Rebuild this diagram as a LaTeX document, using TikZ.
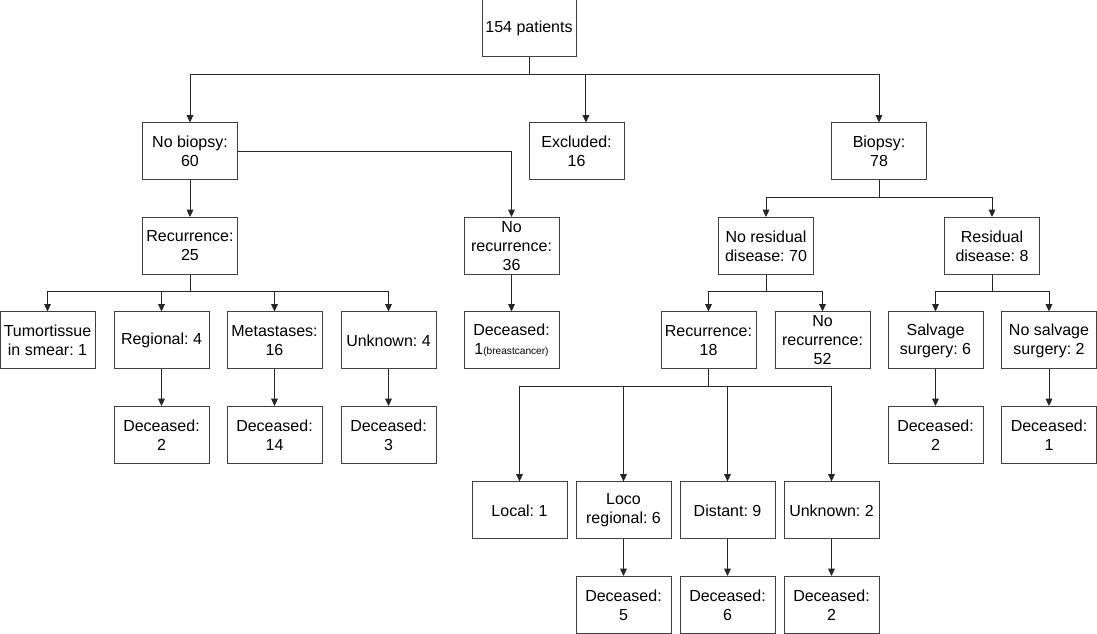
\documentclass[tikz,border=0pt]{standalone}
\usepackage{fontspec}
\setmainfont{Liberation Sans}
\usetikzlibrary{arrows.meta}
\frenchspacing
\begin{document}
\begin{tikzpicture}[x=0.75pt,y=-0.75pt,
  box/.style={draw=black!75,line width=0.75pt,minimum width=71.25pt,minimum height=42.75pt,
    inner sep=0pt,align=center,font=\fontsize{12}{14.25}\selectfont\frenchspacing},
  conn/.style={draw=black!85,line width=0.75pt},
  arr/.style={conn,-{Triangle[length=5.5pt,width=5pt]}}]
\useasboundingbox (0,0) rectangle (1097,634);
% level 1
\node[box,minimum width=70.5pt] (p154) at (529,28.5) {154 patients};
% level 2
\node[box] (nobiopsy) at (190,151.5) {No biopsy:\\60};
\node[box] (excluded) at (576.5,151.5) {Excluded:\\16};
\node[box] (biopsy) at (879,151.5) {Biopsy:\\78};
% level 3
\node[box] (rec25) at (190,246) {Recurrence:\\25};
\node[box] (norec36) at (511.5,246) {No\\recurrence:\\36};
\node[box] (nores) at (766,246) {No residual\\disease: 70};
\node[box] (res) at (992,246) {Residual\\disease: 8};
% level 4
\node[box] (tumor) at (47.5,340.5) {Tumortissue\\in smear: 1};
\node[box] (regional) at (161.5,340.5) {Regional: 4};
\node[box] (metast) at (274.5,340.5) {Metastases:\\16};
\node[box] (unk4) at (388.5,340.5) {Unknown: 4};
\node[box] (dec1) at (511.5,340.5) {Deceased:\\1{\fontsize{7.6}{9}\selectfont(breastcancer)}};
\node[box] (rec18) at (708.5,340.5) {Recurrence:\\18};
\node[box] (norec52) at (822.5,340.5) {No\\recurrence:\\52};
\node[box] (salv) at (935.5,340.5) {Salvage\\surgery: 6};
\node[box] (nosalv) at (1049,340.5) {No salvage\\surgery: 2};
% level 5
\node[box] (dec2) at (161.5,435) {Deceased:\\2};
\node[box] (dec14) at (274.5,435) {Deceased:\\14};
\node[box] (dec3) at (388.5,435) {Deceased:\\3};
\node[box] (decs2) at (935.5,435) {Deceased:\\2};
\node[box] (decs1) at (1049,435) {Deceased:\\1};
% level 6
\node[box] (local) at (519.5,510.5) {Local: 1};
\node[box] (loco) at (623.5,510.5) {Loco\\regional: 6};
\node[box] (distant) at (727.5,510.5) {Distant: 9};
\node[box] (unk2) at (831.5,510.5) {Unknown: 2};
% level 7
\node[box] (dec5) at (623.5,605) {Deceased:\\5};
\node[box] (dec6) at (727.5,605) {Deceased:\\6};
\node[box] (dec2b) at (831.5,605) {Deceased:\\2};
% junctions
\coordinate (j1) at (529,75);
\coordinate (j2) at (190,292);
\coordinate (j3) at (879,198);
\coordinate (j4) at (766,292);
\coordinate (j5) at (992,292);
\coordinate (j6) at (708.5,387);
% connectors
\draw[conn] (p154) -- (j1);
\draw[arr] (j1) -| (nobiopsy);
\draw[arr] (j1) -| ([xshift=7.1pt]excluded.north);
\draw[arr] (j1) -| (biopsy);
\draw[arr] (nobiopsy) -- (rec25);
\draw[arr] (nobiopsy.east) -| (norec36);
\draw[conn] (rec25) -- (j2);
\draw[arr] (j2) -| (tumor);
\draw[arr] (j2) -| (regional);
\draw[arr] (j2) -| (metast);
\draw[arr] (j2) -| (unk4);
\draw[arr] (norec36) -- (dec1);
\draw[arr] (regional) -- (dec2);
\draw[arr] (metast) -- (dec14);
\draw[arr] (unk4) -- (dec3);
\draw[conn] (biopsy) -- (j3);
\draw[arr] (j3) -| (nores);
\draw[arr] (j3) -| (res);
\draw[conn] (nores) -- (j4);
\draw[arr] (j4) -| (rec18);
\draw[arr] (j4) -| (norec52);
\draw[conn] (res) -- (j5);
\draw[arr] (j5) -| (salv);
\draw[arr] (j5) -| (nosalv);
\draw[arr] (salv) -- (decs2);
\draw[arr] (nosalv) -- (decs1);
\draw[conn] (rec18) -- (j6);
\draw[arr] (j6) -| (local);
\draw[arr] (j6) -| (loco);
\draw[arr] (j6) -| (distant);
\draw[arr] (j6) -| (unk2);
\draw[arr] (loco) -- (dec5);
\draw[arr] (distant) -- (dec6);
\draw[arr] (unk2) -- (dec2b);
\end{tikzpicture}
\end{document}
